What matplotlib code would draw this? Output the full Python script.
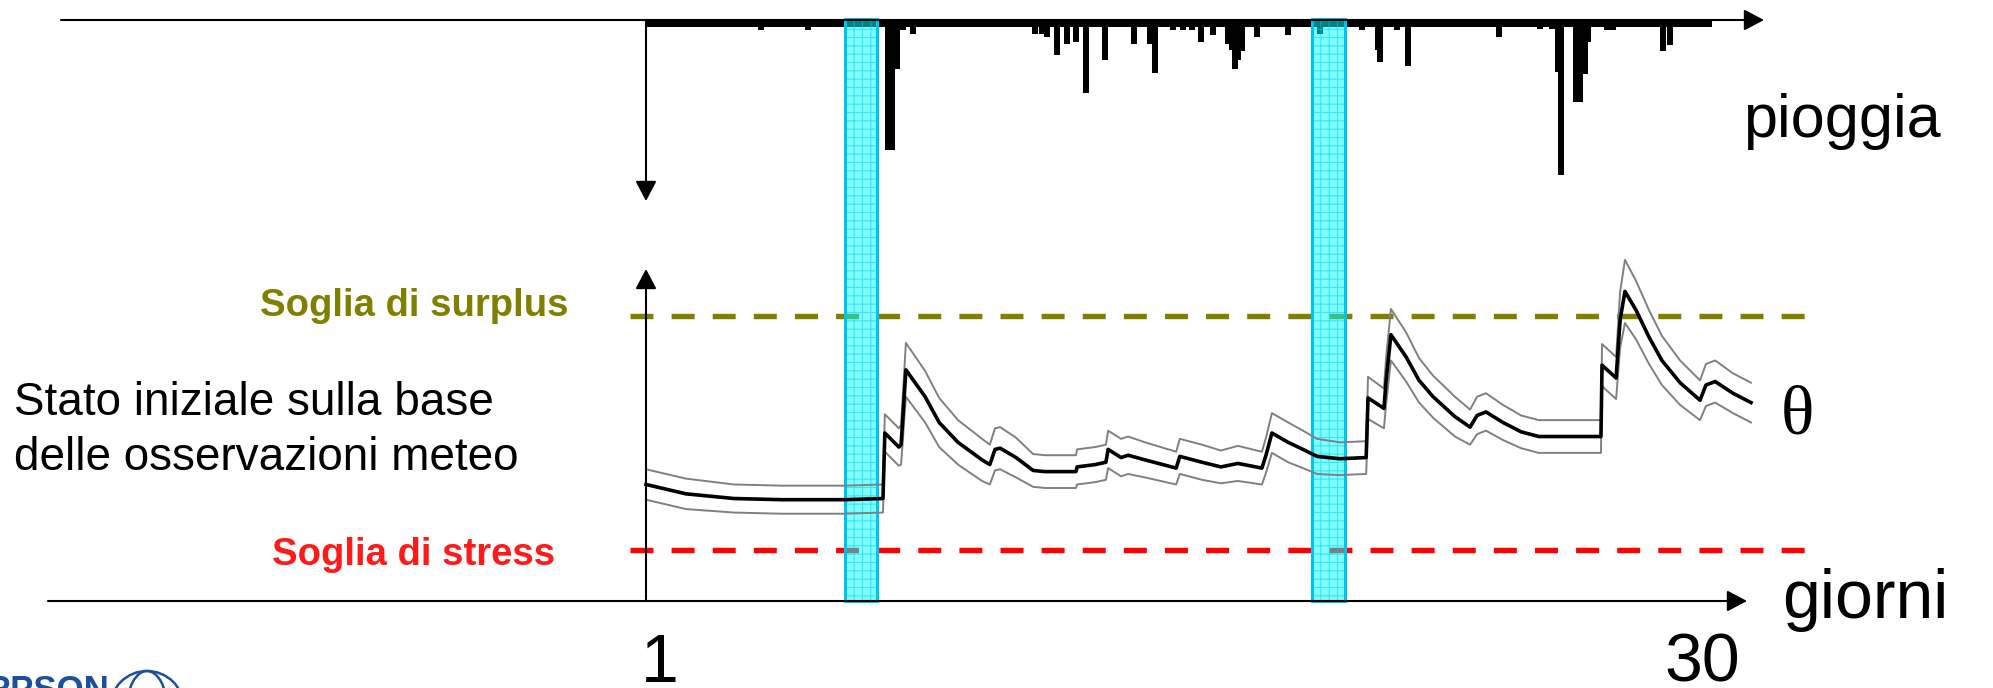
import matplotlib
matplotlib.use('Agg')

import matplotlib.pyplot as plt
from matplotlib.patches import Ellipse

# --- dati ---
# pioggia (mm) per istante (giorni)
rain_days = [4.11, 5.38, 7.55, 7.66, 7.79, 7.95, 8.22, 11.52, 11.71, 11.85, 12.12, 12.39,
             12.63, 12.90, 13.42, 14.20, 14.63, 14.77, 15.25, 15.53, 15.77, 16.01, 16.34,
             16.74, 16.85, 16.93, 17.01, 17.12, 17.53, 18.37, 19.23, 20.37, 20.80, 20.85,
             21.31, 21.61, 24.07, 25.18, 25.51, 25.67, 25.75, 26.16, 26.26, 26.40, 26.48,
             26.99, 27.16, 28.51, 28.70, 29.70]
rain_mm = [2.0, 2.0, 26.0, 26.0, 9.8, 2.0, 2.8, 2.8, 2.8, 3.4, 7.0, 4.8,
           4.4, 14.6, 8.0, 4.8, 4.8, 10.6, 2.0, 2.0, 2.0, 4.4, 3.0,
           4.8, 6.0, 9.8, 8.0, 6.2, 3.4, 3.0, 2.8, 2.0, 6.0, 8.4,
           2.0, 9.2, 3.4, 1.8, 1.8, 10.4, 31.0, 16.4, 16.4, 10.8, 4.4,
           2.0, 2.0, 6.2, 5.0, 0.8]
rain_period = [1.0, 29.83]
rain_floor = 1.4

# contenuto idrico del suolo (theta) e incertezza
theta_days = [1.00, 2.08, 3.38, 4.68, 6.36, 7.41, 7.46, 7.84, 7.90, 8.03, 8.55, 8.93,
              9.44, 10.09, 10.30, 10.44, 10.58, 11.01, 11.47, 11.79, 12.63, 12.66, 13.15,
              13.44, 13.50, 13.85, 14.04, 14.50, 15.34, 15.44, 16.04, 16.55, 17.01, 17.66,
              17.77, 17.93, 18.37, 18.77, 19.15, 19.77, 20.48, 20.53, 20.96, 21.02, 21.15,
              21.56, 21.91, 22.29, 22.88, 23.29, 23.48, 23.72, 24.18, 24.67, 25.15, 26.83,
              26.86, 27.24, 27.35, 27.48, 27.78, 28.13, 28.48, 28.97, 29.51, 29.67, 29.92,
              30.40, 30.89]
theta_mid = [0.206, 0.198, 0.194, 0.193, 0.193, 0.194, 0.250, 0.238, 0.240, 0.304, 0.281, 0.259,
             0.242, 0.227, 0.223, 0.236, 0.237, 0.229, 0.218, 0.217, 0.217, 0.221, 0.223,
             0.225, 0.236, 0.229, 0.231, 0.227, 0.220, 0.230, 0.225, 0.221, 0.224, 0.220,
             0.231, 0.250, 0.242, 0.236, 0.230, 0.228, 0.229, 0.280, 0.271, 0.295, 0.334,
             0.315, 0.295, 0.281, 0.264, 0.255, 0.265, 0.268, 0.259, 0.251, 0.247, 0.247,
             0.308, 0.297, 0.347, 0.371, 0.355, 0.332, 0.312, 0.293, 0.278, 0.291, 0.294,
             0.284, 0.276]
theta_spread = [0.013, 0.013, 0.012, 0.012, 0.012, 0.012, 0.016, 0.016, 0.017, 0.023, 0.022, 0.021,
                0.019, 0.018, 0.017, 0.018, 0.018, 0.017, 0.014, 0.014, 0.014, 0.015, 0.015,
                0.015, 0.016, 0.016, 0.016, 0.015, 0.014, 0.015, 0.015, 0.014, 0.015, 0.014,
                0.015, 0.017, 0.017, 0.016, 0.015, 0.014, 0.014, 0.018, 0.017, 0.020, 0.022,
                0.021, 0.019, 0.018, 0.017, 0.015, 0.016, 0.016, 0.015, 0.014, 0.014, 0.014,
                0.018, 0.018, 0.024, 0.027, 0.025, 0.023, 0.021, 0.019, 0.017, 0.018, 0.018,
                0.017, 0.017]

theta_surplus = 0.35
theta_stress = 0.15

# finestre evidenziate (giorni)
band_start = [6.38, 19.01]
band_end = [7.25, 19.91]

W, H = 1993, 688
PPD = 36.97          # pixel per giorno
X_ORIGIN = 646       # pixel del giorno 1

fig = plt.figure(figsize=(W / 100, H / 100), dpi=100)
plt.rcParams['hatch.linewidth'] = 0.8

xlim = (1 - X_ORIGIN / PPD, 1 + (W - X_ORIGIN) / PPD)

# pannello pioggia (asse rovesciato)
ax_rain = fig.add_axes([0, (H - 201) / H, 1, 181 / H])
ax_rain.set_xlim(*xlim)
ax_rain.set_ylim(36.2, 0)
ax_rain.axis('off')
ax_rain.fill_between(rain_period, 0, rain_floor, color='black', lw=0)
ax_rain.bar(rain_days, rain_mm, width=0.15, color='black', lw=0)

# pannello theta
ax_th = fig.add_axes([0, (H - 601) / H, 1, 332 / H])
ax_th.set_xlim(*xlim)
ax_th.set_ylim(theta_stress - 51 / 1170, theta_stress + 332 / 1170 - 51 / 1170)
ax_th.axis('off')

x_a = 1 + (630 - X_ORIGIN) / PPD
x_b = 1 + (1806 - X_ORIGIN) / PPD
dash = (0, (4.24, 3.35))
ax_th.hlines(theta_surplus, x_a, x_b, colors='#808000', lw=3.9,
             linestyles=dash, zorder=1)
ax_th.hlines(theta_stress, x_a, x_b, colors='#ff0000', lw=3.9,
             linestyles=dash, zorder=1)

top_frac = (601 - 19) / 332
for b0, b1 in zip(band_start, band_end):
    ax_th.axvspan(b0, b1, ymin=0, ymax=top_frac, facecolor=(0, 1, 1, 0.5),
                  edgecolor=(0.0, 0.82, 0.92, 0.55), hatch='++', lw=0,
                  zorder=2, clip_on=False)
    ax_th.axvspan(b0, b1, ymin=0, ymax=top_frac, fill=False,
                  edgecolor='#00c4f0', lw=2.2, zorder=2, clip_on=False)

upper = [m + s for m, s in zip(theta_mid, theta_spread)]
lower = [m - s for m, s in zip(theta_mid, theta_spread)]
ax_th.plot(theta_days, upper, color='#808080', lw=1.4, zorder=3, clip_on=False)
ax_th.plot(theta_days, lower, color='#808080', lw=1.4, zorder=3, clip_on=False)
ax_th.plot(theta_days, theta_mid, color='black', lw=2.6, zorder=4, clip_on=False)


# frecce degli assi (pixel della figura, origine in alto)
def arrow(x0, y0, x1, y1):
    ax_th.annotate('', xy=(x1, H - y1), xytext=(x0, H - y0),
                   xycoords='figure pixels', textcoords='figure pixels',
                   annotation_clip=False,
                   arrowprops=dict(arrowstyle='-|>,head_length=0.87,head_width=0.46',
                                   color='black', lw=1.5, mutation_scale=14,
                                   shrinkA=0, shrinkB=0))


arrow(61, 20, 1764, 20)
arrow(X_ORIGIN, 20, X_ORIGIN, 201)
arrow(48, 601, 1747, 601)
arrow(X_ORIGIN, 601, X_ORIGIN, 269)


def label(x, y, s, **kw):
    fig.text(x / W, 1 - y / H, s, va='baseline', **kw)


big = dict(fontsize=49, family='Liberation Sans', color='black')
label(1743, 137, 'pioggia', fontsize=44, family='Liberation Sans', color='black')
label(1782, 618, 'giorni', **big)
label(660, 682, '1', ha='center', **big)
label(1702, 682, '30', ha='center', **big)
label(1781, 434, 'θ', fontsize=50, family='Liberation Serif', color='black')

label(14, 415, 'Stato iniziale sulla base', fontsize=33, family='Liberation Sans')
label(14, 470, 'delle osservazioni meteo', fontsize=33, family='Liberation Sans')
label(568, 316, 'Soglia di surplus', ha='right', fontsize=27.5,
      family='Liberation Sans', fontweight='bold', color='#808000')
label(555, 565, 'Soglia di stress', ha='right', fontsize=27.5,
      family='Liberation Sans', fontweight='bold', color='#ff1a1a')

# logo tagliato in basso a sinistra
label(-14, 700, 'RPSON', fontsize=25, family='Liberation Sans',
      fontweight='bold', color='#1d4f9a')
for w, h in [(74, 74), (40, 74), (74, 36)]:
    fig.add_artist(Ellipse((147 / W, 1 - 708 / H), w / W, h / H,
                           transform=fig.transFigure, fill=False,
                           edgecolor='#1d4f9a', lw=1.8))

fig.savefig('out.png', dpi=100, facecolor='white')
